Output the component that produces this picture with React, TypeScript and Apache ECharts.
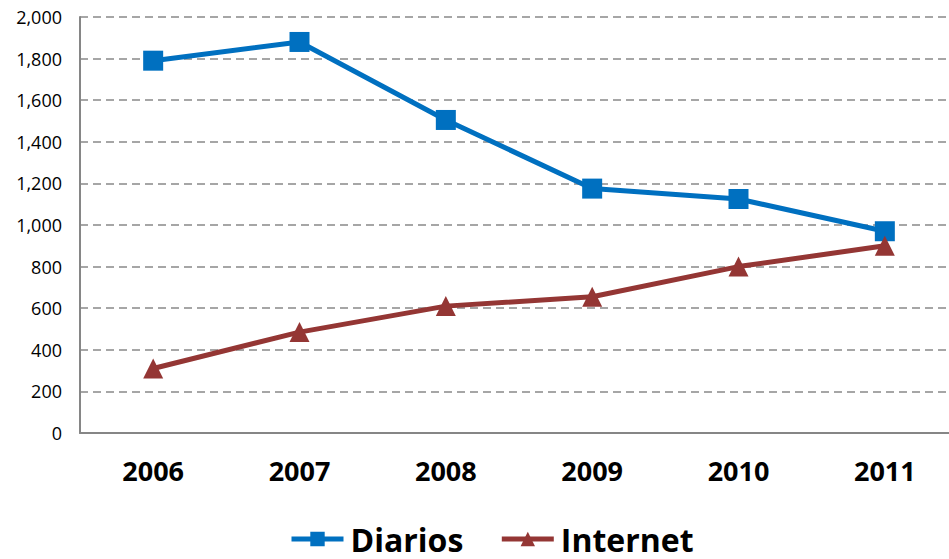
import React, { useEffect, useRef } from "react";
import * as echarts from "echarts";

const years = ["2006", "2007", "2008", "2009", "2010", "2011"];
const diarios = [1790, 1880, 1505, 1175, 1125, 970];
const internet = [310, 485, 610, 655, 800, 900];

export default function App() {
  const ref = useRef<HTMLDivElement>(null);

  useEffect(() => {
    if (!ref.current) return;
    const chart = echarts.init(ref.current, undefined, { renderer: "svg" });
    const font = "'Open Sans', Lato, sans-serif";
    chart.setOption({
      animation: false,
      grid: { left: 80, width: 878, top: 17, bottom: 126, outerBoundsMode: "none" },
      legend: {
        top: 521,
        left: 289,
        padding: 0,
        itemWidth: 52,
        itemHeight: 18,
        itemGap: 36,
        lineStyle: { width: 5 },
        textStyle: {
          fontSize: 32,
          lineHeight: 36,
          fontWeight: "bold",
          color: "#000",
          fontFamily: font,
          padding: [0, 0, 0, 2],
        },
        data: ["Diarios", "Internet"],
      },
      xAxis: {
        type: "category",
        data: years,
        boundaryGap: true,
        axisLine: { lineStyle: { color: "#868686", width: 2 } },
        axisTick: { show: false },
        axisLabel: { fontSize: 27, fontWeight: "bold", color: "#000", margin: 24, fontFamily: font },
      },
      yAxis: {
        type: "value",
        min: 0,
        max: 2000,
        interval: 200,
        axisLine: { show: true, lineStyle: { color: "#868686", width: 2 } },
        axisTick: { show: false },
        axisLabel: {
          fontSize: 18,
          color: "#000",
          margin: 18,
          fontFamily: font,
          formatter: (v: number) => v.toLocaleString("en-US"),
        },
        splitLine: { lineStyle: { color: "#A6A6A6", width: 2, type: [8, 5] } },
      },
      series: [
        {
          name: "Diarios",
          type: "line",
          data: diarios,
          symbol: "rect",
          symbolSize: 20,
          lineStyle: { color: "#0070C0", width: 5 },
          itemStyle: { color: "#0070C0" },
        },
        {
          name: "Internet",
          type: "line",
          data: internet,
          symbol: "triangle",
          symbolSize: 20,
          lineStyle: { color: "#943634", width: 5 },
          itemStyle: { color: "#943634" },
        },
      ],
    });
    return () => chart.dispose();
  }, []);

  return <div ref={ref} style={{ width: 949, height: 559, position: "absolute", left: 0, top: 0 }} />;
}
